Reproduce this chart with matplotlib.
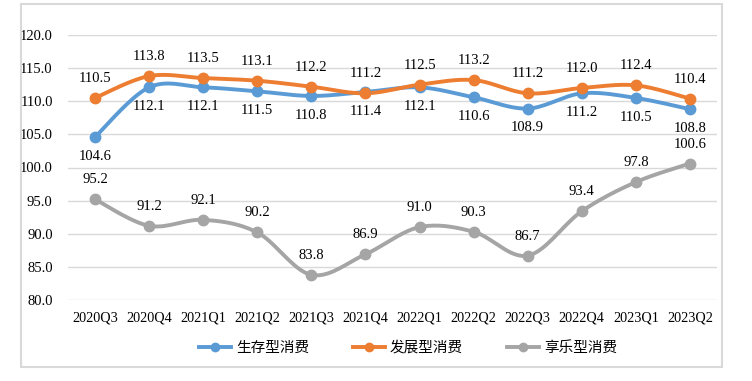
import matplotlib.pyplot as plt
import numpy as np
from matplotlib.patches import Rectangle
from matplotlib.lines import Line2D

quarters = ['2020Q3', '2020Q4', '2021Q1', '2021Q2', '2021Q3', '2021Q4',
            '2022Q1', '2022Q2', '2022Q3', '2022Q4', '2023Q1', '2023Q2']
survival = [104.6, 112.1, 112.1, 111.5, 110.8, 111.4, 112.1, 110.6, 108.9, 111.2, 110.5, 108.8]
develop = [110.5, 113.8, 113.5, 113.1, 112.2, 111.2, 112.5, 113.2, 111.2, 112.0, 112.4, 110.4]
enjoy = [95.2, 91.2, 92.1, 90.2, 83.8, 86.9, 91.0, 90.3, 86.7, 93.4, 97.8, 100.6]
names = ['生存型消费', '发展型消费', '享乐型消费']
colors = ['#5B9BD5', '#ED7D31', '#A5A5A5']

SERIF = 'Liberation Serif'
CJK = ['Noto Sans CJK SC', 'DejaVu Sans']


def smooth(x, y, n=20):
    # Catmull-Rom style smoothing like spreadsheet "smoothed line"
    x = np.asarray(x, float)
    y = np.asarray(y, float)
    px = np.concatenate([[x[0]], x, [x[-1]]])
    py = np.concatenate([[y[0]], y, [y[-1]]])
    xs, ys = [], []
    t = np.linspace(0, 1, n)
    for i in range(1, len(px) - 2):
        p0 = np.array([px[i], py[i]])
        p3 = np.array([px[i + 1], py[i + 1]])
        c1 = p0 + (np.array([px[i + 1], py[i + 1]]) - np.array([px[i - 1], py[i - 1]])) / 6
        c2 = p3 - (np.array([px[i + 2], py[i + 2]]) - np.array([px[i], py[i]])) / 6
        b = ((1 - t) ** 3)[:, None] * p0 + (3 * (1 - t) ** 2 * t)[:, None] * c1 \
            + (3 * (1 - t) * t ** 2)[:, None] * c2 + (t ** 3)[:, None] * p3
        xs.extend(b[:, 0])
        ys.extend(b[:, 1])
    return xs, ys


fig = plt.figure(figsize=(7.52, 3.81), dpi=100)
fig.patches.append(Rectangle((21 / 752, 1 - 367 / 381), 701 / 752, 363 / 381,
                             transform=fig.transFigure, fill=False,
                             edgecolor='#D9D9D9', linewidth=1.5))
ax = fig.add_axes([68 / 752, 1 - 300 / 381, 649 / 752, 265 / 381])

x = np.arange(len(quarters))
series = [survival, develop, enjoy]
offsets = [-14, 14, 14]
for vals, c, off in zip(series, colors, offsets):
    sx, sy = smooth(x, vals)
    ax.plot(sx, sy, color=c, linewidth=2.8, solid_capstyle='round', zorder=3)
    ax.plot(x, vals, 'o', color=c, markersize=7.5, zorder=4)
    for xi, v in zip(x, vals):
        ax.annotate(f'{v:.1f}', (xi, v), xytext=(0, off), textcoords='offset points',
                    ha='center', va='center', fontsize=10.5, family=SERIF, color='#000000')

ax.set_xlim(-0.5, len(quarters) - 0.5)
ax.set_ylim(80, 120)
ax.set_yticks(np.arange(80, 121, 5))
ax.set_yticklabels([f'{v:.1f}' for v in np.arange(80, 121, 5)], family=SERIF, fontsize=10.5)
ax.set_xticks(x)
ax.set_xticklabels(quarters, family=SERIF, fontsize=10.3)
ax.tick_params(length=0, pad=8)
ax.tick_params(axis='y', pad=11)
for s in ax.spines.values():
    s.set_visible(False)
ax.grid(axis='y', color='#D9D9D9', linewidth=1)
ax.set_axisbelow(True)

handles = [Line2D([0], [0], color=c, linewidth=2.8, marker='o', markersize=6) for c in colors]
fig.legend(handles, names, loc='center', bbox_to_anchor=(408 / 752, 1 - 348 / 381),
           ncol=3, frameon=False, prop={'family': CJK, 'size': 10.5},
           handlelength=2.2, columnspacing=3.0, handletextpad=0.35)

fig.savefig('out.png', dpi=100)
